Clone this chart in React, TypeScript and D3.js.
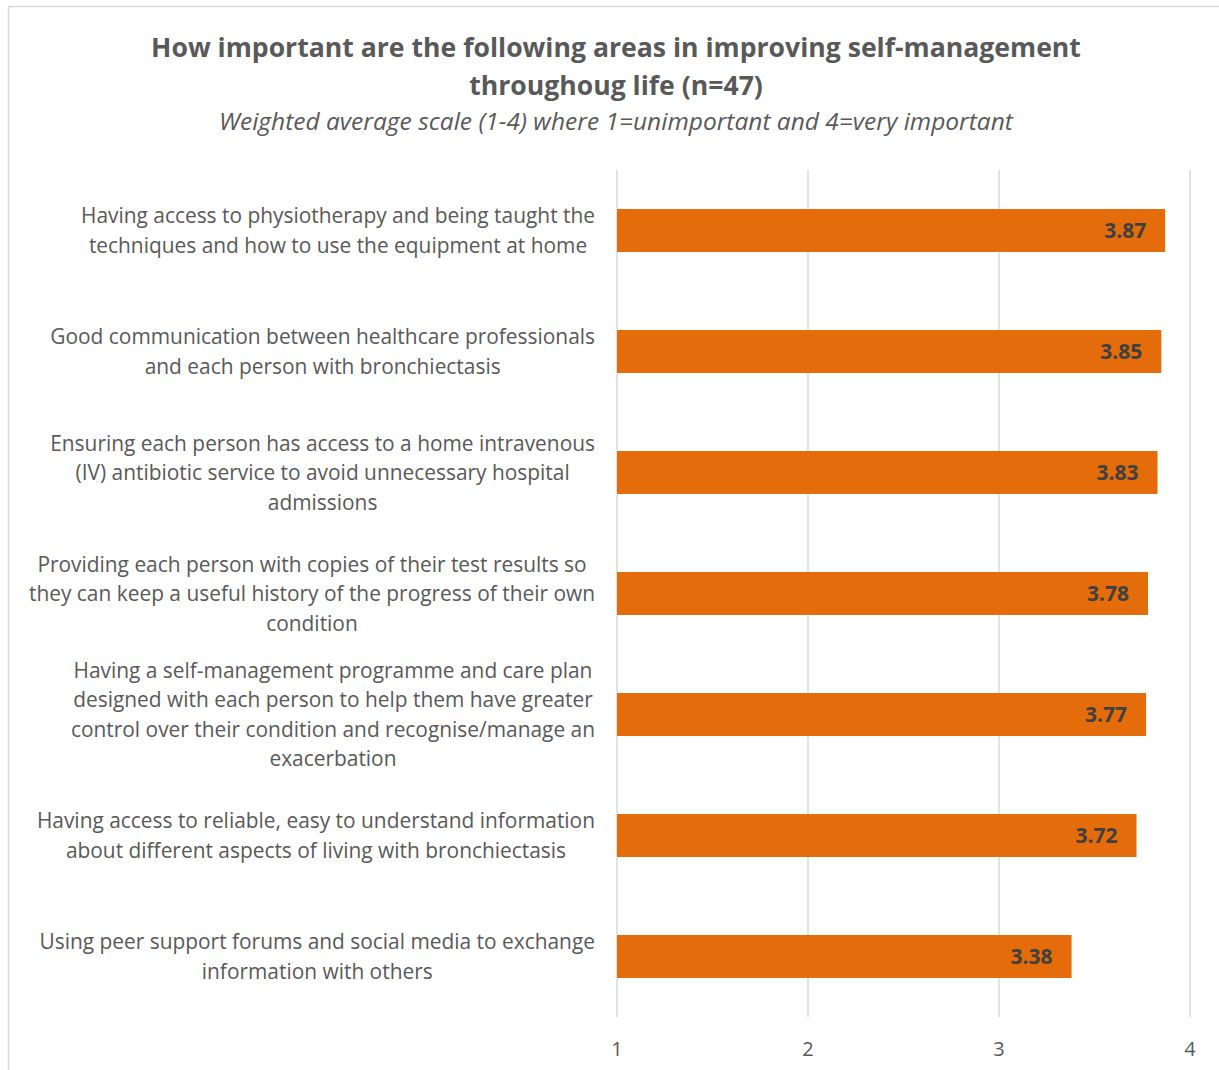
import React from "react";
import * as d3 from "d3";

const categories: string[][] = [
  ["Having access to physiotherapy and being taught the", "techniques and how to use the equipment at home"],
  ["Good communication between healthcare professionals", "and each person with bronchiectasis"],
  ["Ensuring each person has access to a home intravenous", "(IV) antibiotic service to avoid unnecessary hospital", "admissions"],
  ["Providing each person with copies of their test results so", "they can keep a useful history of the progress of their own", "condition"],
  ["Having a self-management programme and care plan", "designed with each person to help them have greater", "control over their condition and recognise/manage an", "exacerbation"],
  ["Having access to reliable, easy to understand information", "about different aspects of living with bronchiectasis"],
  ["Using peer support forums and social media to exchange", "information with others"],
];
const values: number[] = [3.87, 3.85, 3.83, 3.78, 3.77, 3.72, 3.38];
const ticks: number[] = [1, 2, 3, 4];
const titleLines: string[] = ["How important are the following areas in improving self-management", "throughoug life (n=47)"];
const subtitle = "Weighted average scale (1-4) where 1=unimportant and 4=very important";

const FONT = "'Open Sans', 'Noto Sans', sans-serif";
const LABEL_SIZE = 20.9;

let ctx: CanvasRenderingContext2D | null = null;
function measure(t: string, size: number): number {
  if (!ctx) {
    const c = document.createElement("canvas");
    ctx = c.getContext("2d");
  }
  if (!ctx) return t.length * size * 0.5;
  ctx.font = `${size}px 'Open Sans'`;
  return ctx.measureText(t).width;
}

export default function App() {
  const W = 1219, H = 1070;
  const plotLeft = 617, plotRight = 1190, plotTop = 170, plotBottom = 1017;
  const x = d3.scaleLinear().domain([1, 4]).range([plotLeft, plotRight]);
  const idx = categories.map((_, i) => i);
  const y = d3.scaleBand<number>().domain(idx).range([plotTop, plotBottom]).paddingInner(0.645).paddingOuter(0.3225);
  const labelRight = 595;
  const lineH = 29.5;
  const textColor = "#595959";

  return (
    <svg width={W} height={H} style={{ position: "absolute", left: 0, top: 0 }} fontFamily={FONT}>
      <rect x={0} y={0} width={W} height={H} fill="#fff" />
      <rect x={8.5} y={6.5} width={1230} height={1100} fill="#fff" stroke="#d9d9d9" strokeWidth={1.5} />
      <text x={616} y={57} textAnchor="middle" fontSize={26.6} fontWeight="bold" fill={textColor}>{titleLines[0]}</text>
      <text x={616} y={95} textAnchor="middle" fontSize={26.6} fontWeight="bold" fill={textColor}>{titleLines[1]}</text>
      <text x={616} y={130} textAnchor="middle" fontSize={24.5} fontStyle="italic" fill={textColor}>{subtitle}</text>
      {ticks.map((t) => (
        <g key={t}>
          <line x1={x(t)} x2={x(t)} y1={plotTop} y2={plotBottom} stroke="#d9d9d9" strokeWidth={1.5} />
          <text x={x(t)} y={1056} textAnchor="middle" fontSize={20} fill={textColor}>{t}</text>
        </g>
      ))}
      {values.map((v, i) => {
        const by = y(i)!;
        const bh = y.bandwidth();
        const cy = by + bh / 2;
        const lines = categories[i];
        const maxW = Math.max(...lines.map((l) => measure(l, LABEL_SIZE)));
        const cx = labelRight - maxW / 2;
        const startY = cy - ((lines.length - 1) * lineH) / 2;
        return (
          <g key={i}>
            <rect x={x(1)} y={by} width={x(v) - x(1)} height={bh} fill="#E46C0A" />
            <text x={x(v) - 19} y={cy + 7.5} textAnchor="end" fontSize={21} fontWeight="bold" fill="#404040">{v.toFixed(2)}</text>
            {lines.map((l, j) => (
              <text key={j} x={cx} y={startY + j * lineH + 7.5} textAnchor="middle" fontSize={LABEL_SIZE} fill={textColor}>{l}</text>
            ))}
          </g>
        );
      })}
    </svg>
  );
}
